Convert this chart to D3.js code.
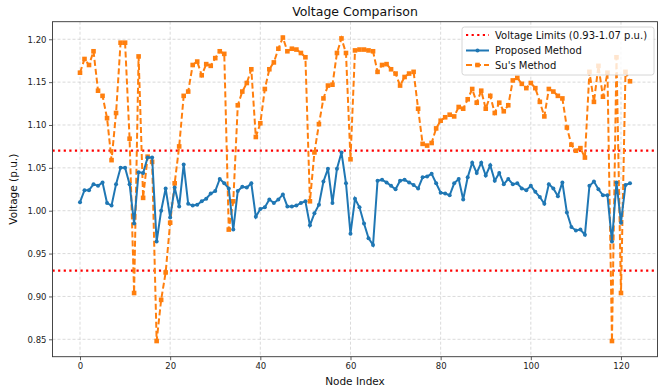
<!DOCTYPE html>
<html>
<head>
<meta charset="utf-8">
<script src="https://cdn.jsdelivr.net/npm/d3@7"></script>
<style>
  html, body { margin: 0; padding: 0; background: #fff; }
  svg { display: block; font-family: "DejaVu Sans", sans-serif; }
</style>
</head>
<body>
<div id="chart"></div>
<script>
// ---- data ----
const proposed = [
  1.010, 1.024, 1.024, 1.031, 1.029, 1.033, 1.009, 1.006, 1.031, 1.050,
  1.050, 1.031, 0.985, 1.045, 1.044, 1.062, 1.062, 0.964, 1.000, 1.026,
  0.992, 1.027, 1.005, 1.054, 1.008, 1.006, 1.007, 1.011, 1.014, 1.020,
  1.023, 1.037, 1.032, 1.026, 0.978, 1.023, 1.028, 1.027, 1.032, 0.993,
  1.002, 1.004, 1.013, 1.009, 1.013, 1.019, 1.005, 1.005, 1.006, 1.009,
  1.011, 0.983, 0.997, 1.007, 1.034, 1.049, 1.009, 1.049, 1.068, 1.032,
  0.973, 1.014, 1.004, 0.985, 0.968, 0.960, 1.035, 1.036, 1.033, 1.029,
  1.025, 1.035, 1.036, 1.033, 1.030, 1.026, 1.039, 1.040, 1.043, 1.032,
  1.021, 1.020, 1.018, 1.032, 1.037, 1.013, 1.039, 1.056, 1.044, 1.056,
  1.041, 1.053, 1.035, 1.044, 1.031, 1.037, 1.031, 1.032, 1.026, 1.024,
  1.029, 1.022, 1.016, 1.008, 1.031, 1.026, 1.017, 1.033, 0.998, 0.981,
  0.977, 0.978, 0.972, 1.029, 1.034, 1.025, 1.018, 1.018, 0.964, 1.033,
  0.986, 1.030, 1.032
];

const susMethod = [
  1.161, 1.177, 1.170, 1.186, 1.140, 1.134, 1.108, 1.059, 1.114, 1.196,
  1.196, 1.084, 0.904, 1.180, 1.015, 1.063, 1.057, 0.848, 0.896, 0.928,
  0.986, 1.032, 1.075, 1.134, 1.139, 1.170, 1.174, 1.158, 1.171, 1.169,
  1.178, 1.186, 1.183, 0.978, 1.011, 1.123, 1.139, 1.149, 1.165, 1.086,
  1.102, 1.142, 1.165, 1.173, 1.189, 1.202, 1.186, 1.189, 1.188, 1.184,
  1.179, 1.011, 1.068, 1.101, 1.131, 1.146, 1.147, 1.184, 1.201, 1.184,
  1.060, 1.187, 1.188, 1.188, 1.187, 1.186, 1.162, 1.170, 1.171, 1.165,
  1.160, 1.146, 1.156, 1.160, 1.162, 1.119, 1.078, 1.076, 1.079, 1.096,
  1.105, 1.109, 1.112, 1.110, 1.121, 1.119, 1.130, 1.142, 1.126, 1.140,
  1.119, 1.134, 1.114, 1.126, 1.116, 1.123, 1.152, 1.155, 1.148, 1.143,
  1.149, 1.143, 1.127, 1.110, 1.142, 1.139, 1.134, 1.131, 1.097, 1.077,
  1.070, 1.073, 1.062, 1.162, 1.127, 1.169, 1.133, 1.161, 0.848, 1.179,
  0.904, 1.162, 1.151
];

const voltageLimits = [0.93, 1.07];
const xTicks = [0, 20, 40, 60, 80, 100, 120];
const yTicks = [0.85, 0.90, 0.95, 1.00, 1.05, 1.10, 1.15, 1.20];
const legendLabels = ["Voltage Limits (0.93-1.07 p.u.)", "Proposed Method", "Su's Method"];

// ---- layout ----
const width = 659, height = 389;
const plot = { left: 52.5, right: 657.5, top: 21.7, bottom: 356.7 };

const svg = d3.select("#chart").append("svg")
  .attr("width", width)
  .attr("height", height);

const x = d3.scaleLinear().domain([-6.1, 128.1]).range([plot.left, plot.right]);
const y = d3.scaleLinear().domain([0.8297, 1.2205]).range([plot.bottom, plot.top]);

// grid
const grid = svg.append("g").attr("class", "grid");
grid.selectAll("line.gx").data(xTicks).join("line")
  .attr("x1", d => x(d)).attr("x2", d => x(d))
  .attr("y1", plot.top).attr("y2", plot.bottom)
  .attr("stroke", "#b0b0b0").attr("stroke-opacity", 0.6)
  .attr("stroke-width", 0.8).attr("stroke-dasharray", "3,2");
grid.selectAll("line.gy").data(yTicks).join("line")
  .attr("x1", plot.left).attr("x2", plot.right)
  .attr("y1", d => y(d)).attr("y2", d => y(d))
  .attr("stroke", "#b0b0b0").attr("stroke-opacity", 0.6)
  .attr("stroke-width", 0.8).attr("stroke-dasharray", "3,2");

// clip for data
svg.append("clipPath").attr("id", "clip")
  .append("rect")
  .attr("x", plot.left).attr("y", plot.top)
  .attr("width", plot.right - plot.left).attr("height", plot.bottom - plot.top);

const content = svg.append("g").attr("clip-path", "url(#clip)");

// limit lines
content.selectAll("line.limit").data(voltageLimits).join("line")
  .attr("x1", plot.left).attr("x2", plot.right)
  .attr("y1", d => y(d)).attr("y2", d => y(d))
  .attr("stroke", "red").attr("stroke-width", 2.2)
  .attr("stroke-dasharray", "2.2,3.4");

const line = d3.line().x((d, i) => x(i)).y(d => y(d));

// Su's method: orange dashed + squares
content.append("path").datum(susMethod)
  .attr("d", line).attr("fill", "none")
  .attr("stroke", "#ff7f0e").attr("stroke-width", 2)
  .attr("stroke-dasharray", "6,3");
content.selectAll("rect.sus").data(susMethod).join("rect")
  .attr("x", (d, i) => x(i) - 2.3).attr("y", d => y(d) - 2.3)
  .attr("width", 4.6).attr("height", 4.6)
  .attr("fill", "#ff7f0e");

// Proposed: blue solid + circles
content.append("path").datum(proposed)
  .attr("d", line).attr("fill", "none")
  .attr("stroke", "#1f77b4").attr("stroke-width", 2);
content.selectAll("circle.prop").data(proposed).join("circle")
  .attr("cx", (d, i) => x(i)).attr("cy", d => y(d))
  .attr("r", 2).attr("fill", "#1f77b4");

// axes
const xAxis = svg.append("g")
  .attr("transform", `translate(0,${plot.bottom})`)
  .call(d3.axisBottom(x).tickValues(xTicks).tickFormat(d3.format("d")).tickSize(3.5).tickPadding(2.5));
const yAxis = svg.append("g")
  .attr("transform", `translate(${plot.left},0)`)
  .call(d3.axisLeft(y).tickValues(yTicks).tickFormat(d3.format(".2f")).tickSize(3.5).tickPadding(2.5));
[xAxis, yAxis].forEach(a => {
  a.select(".domain").remove();
  a.selectAll("text").attr("font-size", "8.5px").attr("fill", "#222")
    .attr("font-family", "DejaVu Sans, sans-serif");
  a.selectAll("line").attr("stroke", "#333").attr("stroke-width", 0.8);
});

// frame
svg.append("rect")
  .attr("x", plot.left).attr("y", plot.top)
  .attr("width", plot.right - plot.left).attr("height", plot.bottom - plot.top)
  .attr("fill", "none").attr("stroke", "#333").attr("stroke-width", 0.9);

// labels
svg.append("text")
  .attr("x", (plot.left + plot.right) / 2).attr("y", 16)
  .attr("text-anchor", "middle").attr("font-size", "12.5px").attr("fill", "#111")
  .text("Voltage Comparison");
svg.append("text")
  .attr("x", (plot.left + plot.right) / 2).attr("y", 385)
  .attr("text-anchor", "middle").attr("font-size", "10.5px").attr("fill", "#111")
  .text("Node Index");
svg.append("text")
  .attr("transform", `translate(17,${(plot.top + plot.bottom) / 2}) rotate(-90)`)
  .attr("text-anchor", "middle").attr("font-size", "10.5px").attr("fill", "#111")
  .text("Voltage (p.u.)");

// legend
const legend = svg.append("g").attr("transform", "translate(462,27)");
legend.append("rect")
  .attr("width", 192).attr("height", 48).attr("rx", 2.5)
  .attr("fill", "#fff").attr("fill-opacity", 0.8)
  .attr("stroke", "#cccccc").attr("stroke-width", 0.8);

const rowY = [8, 23.5, 38];
const lx1 = 4, lx2 = 27;
// row 0: limits
legend.append("line")
  .attr("x1", lx1).attr("x2", lx2).attr("y1", rowY[0]).attr("y2", rowY[0])
  .attr("stroke", "red").attr("stroke-width", 2.2).attr("stroke-dasharray", "2.2,3.4");
// row 1: proposed
legend.append("line")
  .attr("x1", lx1).attr("x2", lx2).attr("y1", rowY[1]).attr("y2", rowY[1])
  .attr("stroke", "#1f77b4").attr("stroke-width", 2);
legend.append("circle")
  .attr("cx", (lx1 + lx2) / 2).attr("cy", rowY[1]).attr("r", 2).attr("fill", "#1f77b4");
// row 2: su's
legend.append("line")
  .attr("x1", lx1).attr("x2", lx2).attr("y1", rowY[2]).attr("y2", rowY[2])
  .attr("stroke", "#ff7f0e").attr("stroke-width", 2).attr("stroke-dasharray", "6,3");
legend.append("rect")
  .attr("x", (lx1 + lx2) / 2 - 2.3).attr("y", rowY[2] - 2.3)
  .attr("width", 4.6).attr("height", 4.6).attr("fill", "#ff7f0e");

legend.selectAll("text.lbl").data(legendLabels).join("text")
  .attr("x", 33).attr("y", (d, i) => rowY[i] + 3.6)
  .attr("font-size", "10px").attr("fill", "#111")
  .text(d => d);
</script>
</body>
</html>
